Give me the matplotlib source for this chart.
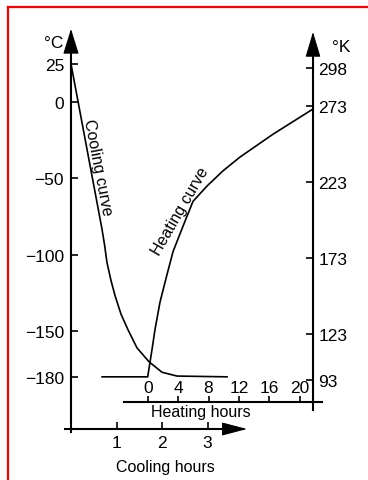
import matplotlib
matplotlib.use("Agg")
import matplotlib.pyplot as plt
from matplotlib.lines import Line2D

# ---------------------------------------------------------------- data
cool_hours = [0.0, 0.68, 0.74, 0.79, 0.88, 0.97, 1.10, 1.25, 1.45, 1.71, 2.00, 2.33, 3.43]
cool_temp_c = [25, -83, -94, -105, -117, -127, -139, -149, -161, -170, -177, -179.5, -180]

heat_hours = [-6.0, 0.0, 0.57, 0.96, 1.62, 2.54, 3.33, 4.51, 5.96, 7.80, 9.91, 12.14, 16.49, 21.75]
heat_temp_c = [-180, -180, -162, -149, -131, -113, -98, -83, -65, -55, -45, -36, -21, -4.5]

celsius_ticks = [25, 0, -50, -100, -150, -180]
kelvin_ticks = [298, 273, 223, 173, 123, 93]
cool_hour_ticks = [1, 2, 3]
heat_hour_ticks = [0, 4, 8, 12, 16, 20]

# ---------------------------------------------------------------- layout
W, H, DPI = 368, 481, 100
plt.rcParams["font.family"] = ["Liberation Sans", "DejaVu Sans"]
plt.rcParams["font.size"] = 11.5
plt.rcParams["axes.unicode_minus"] = True
TICK_FS = 12.5

fig = plt.figure(figsize=(W / DPI, H / DPI), dpi=DPI)


def fx(px):
    return px / W


def fy(py):
    return 1 - py / H


def xspan(px0, v0, scale):
    # data limits for a full-width axes where value v0 sits at pixel px0
    return (v0 - px0 / scale, v0 + (W - px0) / scale)


def yspan(py0, v0, scale):
    # data limits for a full-height axes where value v0 sits at pixel row py0
    return (v0 - (H - py0) / scale, v0 + py0 / scale)


# pixel scales of the three drawn axes
HX, HX0 = 45.5, 71        # cooling hours: px per hour, px of hour 0
HH, HH0 = 7.6, 147.7      # heating hours
TC, TC0 = 1.526, 65       # Celsius: px per degree, row of 25 °C
TK, TK0 = 1.52, 69        # Kelvin: px per degree, row of 298 K


def cx(px):
    return (px - HX0) / HX


def hx(px):
    return (px - HH0) / HH


def cy(py):
    return 25 - (py - TC0) / TC


def ky(py):
    return 298 - (py - TK0) / TK


LW_AX = 1.5
LW_CURVE = 1.2

# ---------------- cooling axes (hours vs °C)
ax = fig.add_axes([0, 0, 1, 1])
ax.set_xlim(*xspan(HX0, 0, HX))
ax.set_ylim(*yspan(TC0, 25, TC))
ax.patch.set_visible(False)
for s in ("top", "right"):
    ax.spines[s].set_visible(False)
ax.spines["left"].set_position(("data", 0))
ax.spines["left"].set_bounds(cy(433), cy(53))
ax.spines["bottom"].set_position(("data", cy(430)))
ax.spines["bottom"].set_bounds(cx(65), cx(224))
for s in ("left", "bottom"):
    ax.spines[s].set_linewidth(LW_AX)
ax.set_xticks(cool_hour_ticks)
ax.set_yticks(celsius_ticks)
ax.tick_params(axis="y", direction="in", length=5, width=1.2, pad=5, labelsize=TICK_FS)
ax.tick_params(axis="x", direction="in", length=5, width=1.2, pad=4, labelsize=TICK_FS)
ax.plot(cool_hours, cool_temp_c, color="black", lw=LW_CURVE)

arrow_kw = dict(color="black", lw=0.8, shrinkA=0, shrinkB=0, mutation_scale=10)
ax.annotate("", xy=(0, cy(30)), xytext=(0, cy(53)),
            arrowprops=dict(arrowstyle="-|>,head_length=1.6,head_width=0.5", **arrow_kw))
ax.annotate("", xy=(cx(247), cy(430)), xytext=(cx(224), cy(430)),
            arrowprops=dict(arrowstyle="-|>,head_length=1.6,head_width=0.42", **arrow_kw))

# ---------------- heating axes (hours vs °C, shared temperature)
ax_h = fig.add_axes([0, 0, 1, 1], sharey=ax)
ax_h.set_xlim(*xspan(HH0, 0, HH))
ax_h.patch.set_visible(False)
for s in ("left", "right", "bottom"):
    ax_h.spines[s].set_visible(False)
ax_h.spines["top"].set_position(("data", cy(403)))
ax_h.spines["top"].set_bounds(hx(124), hx(322))
ax_h.spines["top"].set_linewidth(LW_AX)
ax_h.xaxis.tick_top()
ax_h.set_xticks(heat_hour_ticks)
ax_h.tick_params(axis="x", direction="out", length=4.5, width=1.2, pad=0.5, labelsize=TICK_FS)
ax_h.tick_params(axis="y", left=False, labelleft=False, right=False, labelright=False)
ax_h.plot(heat_hours, heat_temp_c, color="black", lw=LW_CURVE)

# ---------------- Kelvin scale on the right
ax_k = fig.add_axes([0, 0, 1, 1])
ax_k.set_xlim(0, 1)
ax_k.set_ylim(*yspan(TK0, 298, TK))
ax_k.patch.set_visible(False)
for s in ("left", "top", "bottom"):
    ax_k.spines[s].set_visible(False)
ax_k.spines["right"].set_position(("axes", fx(313)))
ax_k.spines["right"].set_bounds(ky(411), ky(55))
ax_k.spines["right"].set_linewidth(LW_AX)
ax_k.yaxis.tick_right()
ax_k.set_yticks(kelvin_ticks)
ax_k.set_xticks([])
ax_k.tick_params(axis="y", direction="in", length=5, width=1.2, pad=4, labelsize=TICK_FS)
ax_k.annotate("", xy=(fx(313), ky(33)), xytext=(fx(313), ky(56)),
              xycoords=ax_k.get_yaxis_transform(), textcoords=ax_k.get_yaxis_transform(),
              arrowprops=dict(arrowstyle="-|>,head_length=1.6,head_width=0.48", **arrow_kw))

# ---------------- labels
fig.text(fx(54), fy(43), "°C", ha="center", va="center", fontsize=TICK_FS)
fig.text(fx(341), fy(47), "°K", ha="center", va="center", fontsize=TICK_FS)
fig.text(fx(98), fy(168), "Cooling curve", ha="center", va="center",
         rotation=-79, rotation_mode="anchor")
fig.text(fx(180), fy(211), "Heating curve", ha="center", va="center",
         rotation=60, rotation_mode="anchor")
fig.text(fx(165), fy(468), "Cooling hours", ha="center", va="center")
fig.text(fx(201), fy(413), "Heating hours", ha="center", va="center")

# ---------------- red frame (top and left edges)
fig.add_artist(Line2D([fx(8), fx(368)], [fy(8), fy(8)], color="#ff0000", lw=1.6,
                      transform=fig.transFigure))
fig.add_artist(Line2D([fx(8), fx(8)], [fy(8), fy(481)], color="#ff0000", lw=1.6,
                      transform=fig.transFigure))

fig.savefig("out.png", dpi=DPI)
